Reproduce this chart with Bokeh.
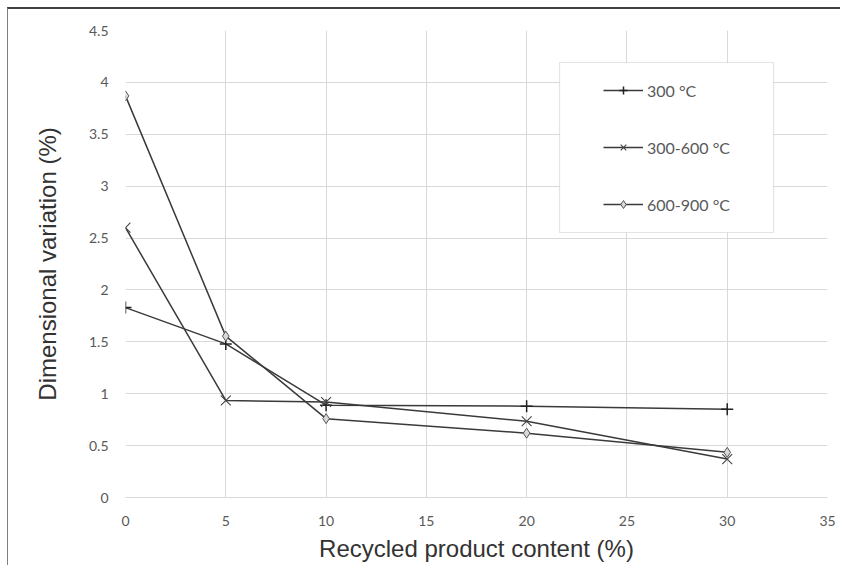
from bokeh.plotting import figure
from bokeh.models import Legend, LegendItem, BoxAnnotation, FixedTicker
from bokeh.embed import file_html
from bokeh.resources import INLINE

# Data
content = [0, 5, 10, 20, 30]
s300 = [1.83, 1.48, 0.89, 0.88, 0.85]
s300_600 = [2.60, 0.935, 0.92, 0.735, 0.37]
s600_900 = [3.87, 1.555, 0.76, 0.62, 0.435]
series_labels = ["300 °C", "300-600 °C", "600-900 °C"]

x_ticks = [0, 5, 10, 15, 20, 25, 30, 35]
y_ticks = [0, 0.5, 1, 1.5, 2, 2.5, 3, 3.5, 4, 4.5]
y_tick_labels = ["0", "0.5", "1", "1.5", "2", "2.5", "3", "3.5", "4", "4.5"]

TICK_FONT = "Lato"
TITLE_FONT = "Liberation Sans"
LINE = "#3a3a3a"

p = figure(width=833, height=558, x_range=(0, 35), y_range=(0, 4.5),
           output_backend="svg", toolbar_location=None,
           min_border_left=117, min_border_right=14, min_border_top=21, min_border_bottom=70)
p.styles = {"border-top": "2px solid #404040", "border-left": "1px solid #7f7f7f",
            "margin-top": "7px", "margin-left": "7px"}
p.outline_line_color = None
p.background_fill_color = "white"
p.border_fill_color = "white"

p.xaxis.ticker = FixedTicker(ticks=x_ticks)
p.yaxis.ticker = FixedTicker(ticks=y_ticks)
p.yaxis.major_label_overrides = {t: l for t, l in zip(y_ticks, y_tick_labels)}
p.xgrid.ticker = FixedTicker(ticks=x_ticks)
p.ygrid.ticker = FixedTicker(ticks=y_ticks)
p.grid.grid_line_color = "#d9d9d9"
p.grid.grid_line_width = 1

for ax in (p.xaxis, p.yaxis):
    ax.major_tick_line_color = None
    ax.minor_tick_line_color = None
    ax.major_tick_out = 0
    ax.major_tick_in = 0
    ax.minor_tick_out = 0
    ax.major_label_text_font = TICK_FONT
    ax.major_label_text_font_size = "14px"
    ax.major_label_text_color = "#595959"
    ax.axis_label_text_font = TITLE_FONT
    ax.axis_label_text_font_size = "24px"
    ax.axis_label_text_font_style = "normal"
    ax.axis_label_text_color = "#333333"
p.xaxis.axis_line_color = "#d9d9d9"
p.yaxis.axis_line_color = None
p.xaxis.axis_label = "Recycled product content (%)"
p.yaxis.axis_label = "Dimensional variation (%)"
p.xaxis.major_label_standoff = 18
p.xaxis.axis_label_standoff = 6
p.yaxis.major_label_standoff = 17
p.yaxis.axis_label_standoff = 25

l1 = p.line(content, s300, line_color=LINE, line_width=1.5)
m1 = p.scatter(content, s300, marker="cross", size=12, line_color="#222222", line_width=1.5)
l2 = p.line(content, s300_600, line_color=LINE, line_width=1.5)
m2 = p.scatter(content, s300_600, marker="x", size=14, line_color="#444444", line_width=1.1)
l3 = p.line(content, s600_900, line_color=LINE, line_width=1.5)
m3 = p.scatter(content, s600_900, marker="diamond", size=10, line_color="#555555",
               fill_color="#d9d9d9", line_width=1)

box = BoxAnnotation(left=434, right=648, bottom=265, top=435,
                    left_units="screen", right_units="screen",
                    bottom_units="screen", top_units="screen",
                    fill_color="white", fill_alpha=1.0,
                    line_color="#a6a6a6", line_width=1.2, level="annotation")
p.add_layout(box)

legend = Legend(items=[LegendItem(label=series_labels[0], renderers=[l1, m1]),
                       LegendItem(label=series_labels[1], renderers=[l2, m2]),
                       LegendItem(label=series_labels[2], renderers=[l3, m3])],
                location=(478, 283))
legend.padding = 0
legend.margin = 0
legend.spacing = 37
legend.glyph_width = 40
legend.glyph_height = 20
legend.label_height = 20
legend.label_standoff = 4
legend.border_line_color = None
legend.background_fill_alpha = 0
legend.label_text_font = TICK_FONT
legend.label_text_font_size = "16px"
legend.label_text_color = "#595959"
p.add_layout(legend, "center")

open("out.html", "w").write(file_html(p, INLINE))
